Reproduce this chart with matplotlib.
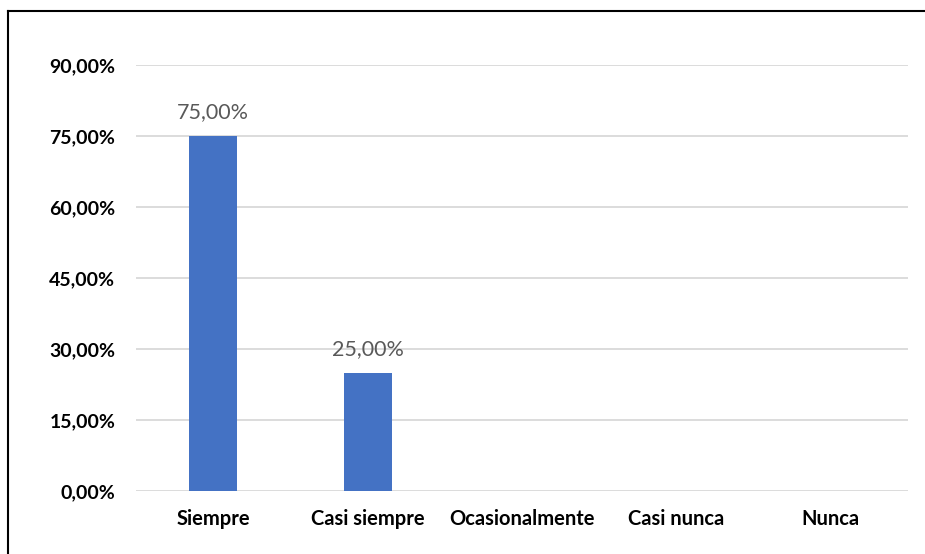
import matplotlib.pyplot as plt
from matplotlib.lines import Line2D

categorias = ["Siempre", "Casi siempre", "Ocasionalmente", "Casi nunca", "Nunca"]
porcentajes = [75.0, 25.0, 0.0, 0.0, 0.0]
ticks_y = [0, 15, 30, 45, 60, 75, 90]

def fmt(v):
    return ("%.2f%%" % v).replace(".", ",")

plt.rcParams['font.family'] = ['Lato', 'DejaVu Sans']

fig = plt.figure(figsize=(9.25, 5.54), dpi=100)
ax = fig.add_axes([136/925, 1-491/554, (908-136)/925, (491-65)/554])

x = range(len(categorias))
barras = ax.bar(x, porcentajes, width=0.31, color='#4472c4', zorder=3)

# etiquetas solo para las barras con valor
for b, v in zip(barras, porcentajes):
    if v > 0:
        ax.annotate(fmt(v), (b.get_x() + b.get_width()/2, v), xytext=(0, 10),
                    textcoords='offset points', ha='center', va='bottom',
                    fontsize=15.5, color='#595959')

ax.set_xlim(-0.5, len(categorias) - 0.5)
ax.set_ylim(0, 90)
ax.set_yticks(ticks_y)
ax.set_yticklabels([fmt(t) for t in ticks_y], fontsize=14, fontweight='bold')
ax.set_xticks(list(x))
ax.set_xticklabels(categorias, fontsize=14.5, fontweight='bold')
ax.tick_params(axis='both', length=0)
ax.tick_params(axis='y', pad=15)
ax.tick_params(axis='x', pad=13)
ax.yaxis.grid(True, color='#d9d9d9', linewidth=1.3, zorder=0)
for s in ax.spines.values():
    s.set_visible(False)

# borde del grafico (solo izquierda y arriba caben en la imagen)
fig.add_artist(Line2D([8/925, 8/925], [0, 1-11/554], color='black', lw=1.5, transform=fig.transFigure))
fig.add_artist(Line2D([8/925, 1], [1-11/554, 1-11/554], color='black', lw=1.5, transform=fig.transFigure))

fig.savefig("out.png", dpi=100)
